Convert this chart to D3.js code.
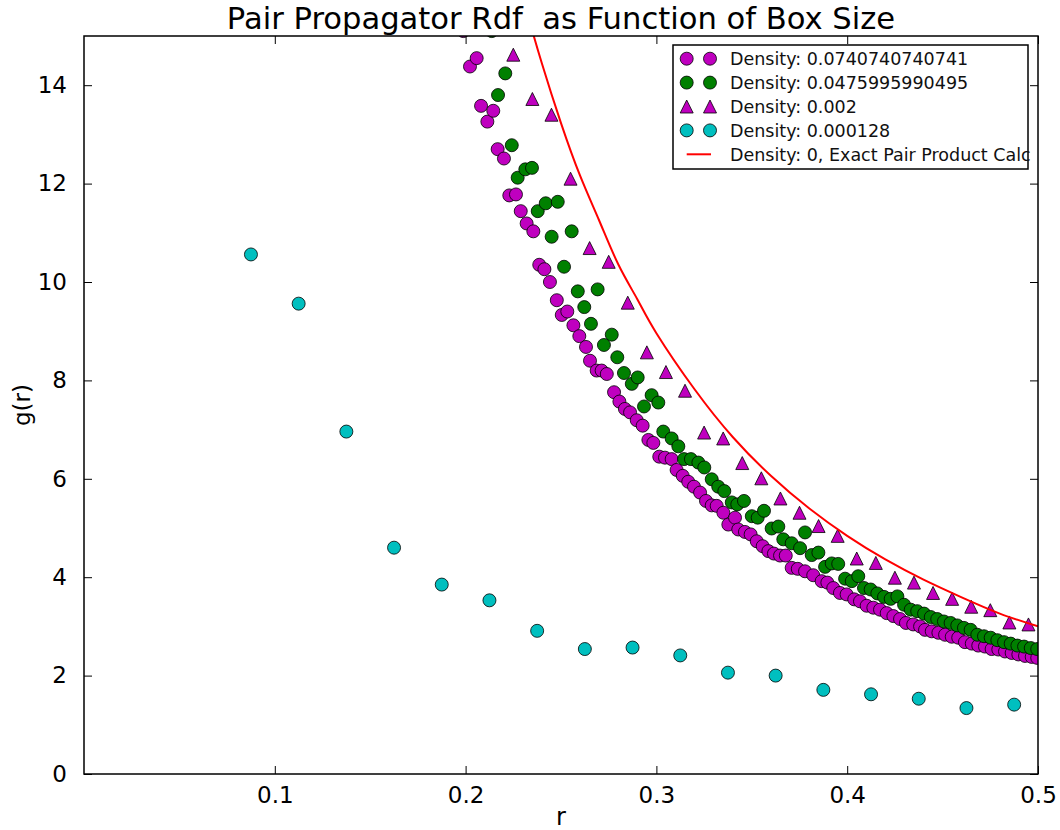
<!DOCTYPE html>
<html>
<head>
<meta charset="utf-8">
<script src="https://cdn.jsdelivr.net/npm/d3@7"></script>
<style>
  html, body { margin: 0; padding: 0; background: #fff; }
  svg { display: block; font-family: "DejaVu Sans", sans-serif; }
  text { white-space: pre; }
</style>
</head>
<body>
<svg id="chart" width="1060" height="830"></svg>
<script>
// g(r) for density 0.0740740740741
const rDense = [0.1988,0.2023,0.2058,0.2081,0.2114,0.2145,0.2168,0.2201,0.2229,0.2264,0.2289,0.2320,0.2355,0.2386,0.2413,0.2442,0.2478,0.2504,0.2533,0.2565,0.2596,0.2631,0.2652,0.2687,0.2713,0.2740,0.2778,0.2806,0.2835,0.2862,0.2897,0.2928,0.2958,0.2984,0.3015,0.3045,0.3080,0.3106,0.3138,0.3167,0.3197,0.3229,0.3260,0.3290,0.3316,0.3351,0.3377,0.3412,0.3429,0.3464,0.3494,0.3526,0.3557,0.3587,0.3616,0.3648,0.3678,0.3709,0.3741,0.3779,0.3822,0.3866,0.3896,0.3927,0.3962,0.3997,0.4037,0.4067,0.4102,0.4137,0.4172,0.4207,0.4242,0.4277,0.4308,0.4346,0.4382,0.4408,0.4443,0.4478,0.4513,0.4548,0.4582,0.4617,0.4653,0.4687,0.4722,0.4757,0.4792,0.4827,0.4862,0.4897,0.4932,0.4967,0.4996];
const gDense = [15.10,14.38,14.55,13.58,13.26,13.48,12.70,12.51,11.76,11.78,11.44,11.19,11.03,10.35,10.26,10.00,9.63,9.33,9.40,9.12,8.90,8.68,8.40,8.20,8.20,8.13,7.76,7.57,7.42,7.35,7.19,7.08,6.79,6.73,6.45,6.43,6.40,6.18,6.06,5.94,5.84,5.72,5.55,5.46,5.45,5.31,5.07,5.21,4.97,4.92,4.87,4.73,4.63,4.53,4.48,4.44,4.44,4.19,4.17,4.12,4.04,3.92,3.89,3.78,3.68,3.65,3.55,3.51,3.42,3.38,3.34,3.27,3.21,3.15,3.07,3.04,3.00,2.93,2.90,2.87,2.83,2.79,2.77,2.68,2.65,2.61,2.59,2.54,2.53,2.49,2.46,2.43,2.40,2.38,2.36];

// g(r) for density 0.0475995990495
const rMid = [0.2137,0.2170,0.2208,0.2242,0.2273,0.2313,0.2348,0.2378,0.2420,0.2451,0.2483,0.2516,0.2556,0.2588,0.2622,0.2657,0.2692,0.2725,0.2766,0.2795,0.2830,0.2871,0.2902,0.2935,0.2975,0.3010,0.3036,0.3080,0.3115,0.3145,0.3181,0.3220,0.3251,0.3290,0.3324,0.3356,0.3395,0.3424,0.3459,0.3500,0.3531,0.3564,0.3604,0.3639,0.3665,0.3709,0.3753,0.3779,0.3814,0.3849,0.3884,0.3919,0.3953,0.3989,0.4024,0.4058,0.4088,0.4123,0.4158,0.4193,0.4228,0.4263,0.4298,0.4333,0.4367,0.4403,0.4438,0.4472,0.4507,0.4542,0.4577,0.4612,0.4647,0.4682,0.4717,0.4752,0.4787,0.4822,0.4857,0.4892,0.4927,0.4962,0.4996];
const gMid = [15.10,13.80,14.24,12.78,12.12,12.29,12.32,11.44,11.60,10.92,11.63,10.31,11.03,9.81,9.49,9.15,9.85,8.72,8.93,8.47,8.15,7.93,8.06,7.47,7.70,7.55,6.96,6.82,6.66,6.40,6.40,6.33,6.23,5.99,5.84,5.75,5.52,5.48,5.55,5.24,5.21,5.35,4.99,5.03,4.77,4.69,4.59,4.91,4.45,4.50,4.21,4.28,4.27,3.97,3.92,4.02,3.78,3.75,3.67,3.60,3.56,3.61,3.44,3.34,3.31,3.26,3.19,3.15,3.10,3.07,3.02,2.97,2.93,2.83,2.80,2.77,2.72,2.68,2.65,2.61,2.59,2.56,2.54];

// g(r) for density 0.002
const rLow = [0.225,0.235,0.245,0.255,0.265,0.275,0.285,0.295,0.305,0.315,0.325,0.335,0.345,0.355,0.365,0.375,0.385,0.395,0.405,0.415,0.425,0.435,0.445,0.455,0.465,0.475,0.485,0.495];
const gLow = [14.62,13.72,13.40,12.10,10.69,10.41,9.58,8.57,8.17,7.79,6.94,6.82,6.32,6.01,5.60,5.31,5.04,4.84,4.38,4.29,3.99,3.89,3.68,3.56,3.40,3.33,3.08,3.04];

// g(r) for density 0.000128
const rSparse = [0.0875,0.1125,0.1375,0.1625,0.1875,0.2125,0.2375,0.2625,0.2875,0.3125,0.3375,0.3625,0.3875,0.4125,0.4375,0.4625,0.4875];
const gSparse = [10.56,9.56,6.96,4.60,3.85,3.53,2.91,2.54,2.57,2.41,2.06,2.00,1.71,1.62,1.53,1.34,1.41];

// Exact pair product curve (density 0)
const rExact = [0.22,0.23,0.24,0.25,0.26,0.27,0.28,0.29,0.30,0.32,0.34,0.36,0.38,0.40,0.42,0.44,0.46,0.48,0.50];
const gExact = [17.4,15.81,14.44,13.23,12.16,11.25,10.36,9.65,8.96,7.82,6.85,6.06,5.40,4.84,4.36,3.95,3.59,3.26,3.00];

const xTicks = [0.1,0.2,0.3,0.4,0.5];
const yTicks = [0,2,4,6,8,10,12,14];
const legendLabels = ["Density: 0.0740740740741","Density: 0.0475995990495","Density: 0.002","Density: 0.000128","Density: 0, Exact Pair Product Calc"];

(function () {
  const svg = d3.select("#chart");
  const mL = 84, mR = 1038, mT = 36, mB = 774;
  const x = d3.scaleLinear().domain([0, 0.5]).range([mL, mR]);
  const y = d3.scaleLinear().domain([0, 15]).range([mB, mT]);

  const MAG = "#bf00bf", GRN = "#008000", CYN = "#00bfbf", RED = "#ff0000";
  const ms = 13;

  svg.append("defs").append("clipPath").attr("id", "plotclip")
    .append("rect").attr("x", mL).attr("y", mT).attr("width", mR - mL).attr("height", mB - mT);

  const plot = svg.append("g").attr("clip-path", "url(#plotclip)");

  function tri(h) { return `M0,${-h}L${-h},${h}L${h},${h}Z`; }

  function circles(rs, gs, color) {
    plot.append("g").selectAll("circle").data(rs.map((r, i) => [r, gs[i]])).join("circle")
      .attr("cx", d => x(d[0])).attr("cy", d => y(d[1])).attr("r", ms / 2)
      .attr("fill", color).attr("stroke", "#000").attr("stroke-width", 0.8);
  }
  circles(rDense, gDense, MAG);
  circles(rMid, gMid, GRN);
  plot.append("g").selectAll("path").data(rLow.map((r, i) => [r, gLow[i]])).join("path")
    .attr("d", tri(ms / 2)).attr("transform", d => `translate(${x(d[0])},${y(d[1])})`)
    .attr("fill", MAG).attr("stroke", "#000").attr("stroke-width", 0.8);
  circles(rSparse, gSparse, CYN);

  plot.append("path")
    .datum(rExact.map((r, i) => [r, gExact[i]]))
    .attr("fill", "none").attr("stroke", RED).attr("stroke-width", 2)
    .attr("d", d3.line().x(d => x(d[0])).y(d => y(d[1])).curve(d3.curveNatural));

  // Frame
  svg.append("rect").attr("x", mL).attr("y", mT).attr("width", mR - mL).attr("height", mB - mT)
    .attr("fill", "none").attr("stroke", "#000").attr("stroke-width", 1.5);

  // Axes with inward ticks on all four sides
  const tl = 8;
  const axB = svg.append("g").attr("transform", `translate(0,${mB})`)
    .call(d3.axisBottom(x).tickValues(xTicks).tickSizeInner(-tl).tickSizeOuter(0).tickPadding(13).tickFormat(d3.format(".1f")));
  const axT = svg.append("g").attr("transform", `translate(0,${mT})`)
    .call(d3.axisTop(x).tickValues(xTicks).tickSizeInner(-tl).tickSizeOuter(0).tickFormat(""));
  const axL = svg.append("g").attr("transform", `translate(${mL},0)`)
    .call(d3.axisLeft(y).tickValues(yTicks).tickSizeInner(-tl).tickSizeOuter(0).tickPadding(17).tickFormat(d3.format("d")));
  const axR = svg.append("g").attr("transform", `translate(${mR},0)`)
    .call(d3.axisRight(y).tickValues(yTicks).tickSizeInner(-tl).tickSizeOuter(0).tickFormat(""));
  [axB, axT, axL, axR].forEach(a => {
    a.select(".domain").remove();
    a.selectAll(".tick line").attr("stroke", "#000").attr("stroke-width", 1);
    a.selectAll(".tick text").attr("font-family", "DejaVu Sans").attr("font-size", 23).attr("fill", "#000");
  });

  // Titles
  svg.append("text").attr("x", (mL + mR) / 2).attr("y", 29).attr("text-anchor", "middle")
    .attr("font-size", 30.6).attr("fill", "#000").text("Pair Propagator Rdf  as Function of Box Size");
  svg.append("text").attr("x", (mL + mR) / 2).attr("y", 825).attr("text-anchor", "middle")
    .attr("font-size", 24).attr("fill", "#000").text("r");
  svg.append("text").attr("transform", `translate(30,${(mT + mB) / 2}) rotate(-90)`).attr("text-anchor", "middle")
    .attr("font-size", 23).attr("fill", "#000").text("g(r)");

  // Legend
  const lg = svg.append("g");
  lg.append("rect").attr("x", 673).attr("y", 45).attr("width", 355).attr("height", 124)
    .attr("fill", "#fff").attr("stroke", "#000").attr("stroke-width", 1.5);
  const rowY = i => 58.7 + i * 23.9;
  const mx = [686.7, 710];
  const kinds = [["c", MAG], ["c", GRN], ["t", MAG], ["c", CYN], ["l", RED]];
  kinds.forEach(([k, c], i) => {
    const cy = rowY(i);
    if (k === "l") {
      lg.append("line").attr("x1", mx[0]).attr("x2", mx[1] + 1).attr("y1", cy).attr("y2", cy)
        .attr("stroke", c).attr("stroke-width", 2);
    } else {
      mx.forEach(px => {
        if (k === "c") lg.append("circle").attr("cx", px).attr("cy", cy).attr("r", ms / 2)
          .attr("fill", c).attr("stroke", "#000").attr("stroke-width", 0.8);
        else lg.append("path").attr("d", tri(ms / 2)).attr("transform", `translate(${px},${cy})`)
          .attr("fill", c).attr("stroke", "#000").attr("stroke-width", 0.8);
      });
    }
    lg.append("text").attr("x", 730).attr("y", cy).attr("dy", "0.36em").attr("font-size", 17.5)
      .attr("fill", "#111").text(legendLabels[i]);
  });
})();
</script>
</body>
</html>
